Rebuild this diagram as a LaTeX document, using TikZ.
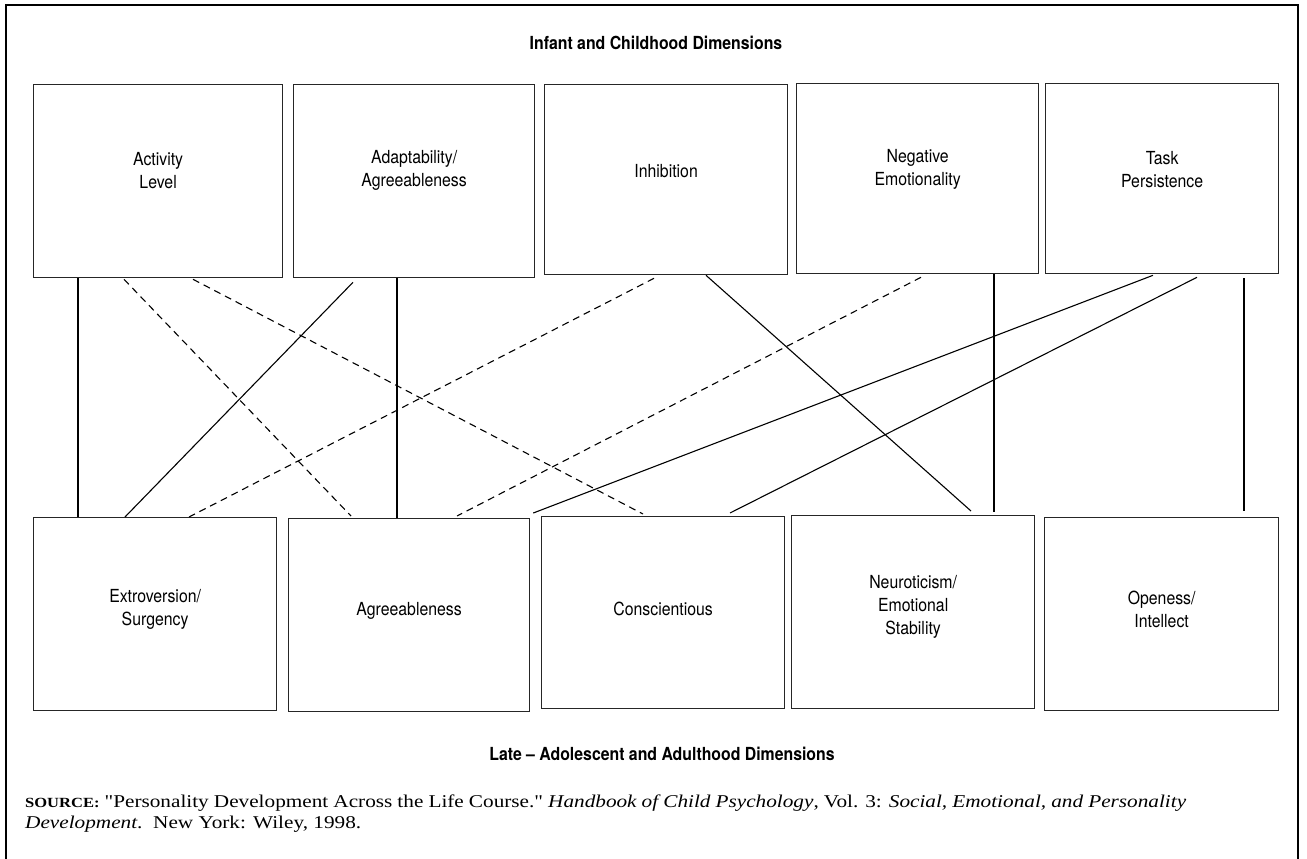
\documentclass[tikz,border=0pt]{standalone}
\usepackage{fontspec}
\newfontfamily\cond[FakeStretch=0.88,Ligatures=TeX]{TeX Gyre Heros}
\newfontfamily\srcfont[FakeStretch=1.18]{Liberation Serif}
\begin{document}
\begin{tikzpicture}[x=1pt,y=-1pt,
  box/.style={draw=black!85, line width=1.3pt, inner sep=0pt, anchor=north west},
  tl/.style={font=\cond\fontsize{18}{23}\selectfont, align=center, yshift=10.5pt, inner sep=0pt},
  bl/.style={font=\cond\fontsize{18}{23}\selectfont, align=center, yshift=4.5pt, inner sep=0pt},
  heading/.style={font=\cond\bfseries\fontsize{18}{22}\selectfont, inner sep=0pt},
  link/.style={line width=1.1pt},
  dlink/.style={line width=1.1pt, dash pattern=on 7pt off 5pt},
  frame/.style={line width=2.6pt}]
\useasboundingbox (0,0) rectangle (1307,859);
\draw[frame] (6,859) -- (6,5) -- (1298,5) -- (1298,859);

% headings
\node[heading] (top) at (656,43) {Infant and Childhood Dimensions};
\node[heading] (bot) at (662,754) {Late – Adolescent and Adulthood Dimensions};

% top boxes
\node[box, minimum width=249pt, minimum height=193pt, label={[tl]center:{Activity\\Level}}] (a1) at (33,84) {};
\node[box, minimum width=241pt, minimum height=193pt, label={[tl]center:{Adaptability/\\Agreeableness}}] (a2) at (293,84) {};
\node[box, minimum width=243pt, minimum height=190pt, label={[tl,yshift=-2pt]center:{Inhibition}}] (a3) at (544,84) {};
\node[box, minimum width=242pt, minimum height=190pt, label={[tl,yshift=-1pt]center:{Negative\\Emotionality}}] (a4) at (796,83) {};
\node[box, minimum width=233pt, minimum height=190pt, label={[tl,yshift=-1pt]center:{Task\\Persistence}}] (a5) at (1045,83) {};

% bottom boxes
\node[box, minimum width=243pt, minimum height=193pt, label={[bl]center:{Extroversion/\\Surgency}}] (b1) at (33,517) {};
\node[box, minimum width=241pt, minimum height=193pt, label={[bl]center:{Agreeableness}}] (b2) at (288,518) {};
\node[box, minimum width=243pt, minimum height=192pt, label={[bl,yshift=-1pt]center:{Conscientious}}] (b3) at (541,516) {};
\node[box, minimum width=243pt, minimum height=193pt, label={[bl,yshift=1pt]center:{Neuroticism/\\Emotional\\Stability}}] (b4) at (791,515) {};
\node[box, minimum width=234pt, minimum height=193pt, label={[bl]center:{Openess/\\Intellect}}] (b5) at (1044,517) {};

% connectors
\draw[link]  ([xshift=45pt]a1.south west) -- ([xshift=45pt]b1.north west);
\draw[dlink] ([xshift=91pt,yshift=-1pt]a1.south west) -- ([xshift=63pt,yshift=2pt]b2.north west);
\draw[dlink] ([xshift=160pt,yshift=-1pt]a1.south west) -- ([xshift=102pt,yshift=2pt]b3.north west);
\draw[link]  ([xshift=60pt,yshift=-4pt]a2.south west) -- ([xshift=92pt]b1.north west);
\draw[link]  ([xshift=104pt]a2.south west) -- ([xshift=109pt]b2.north west);
\draw[dlink] ([xshift=110pt,yshift=-3pt]a3.south west) -- ([xshift=156pt]b1.north west);
\draw[link]  ([xshift=162pt]a3.south west) -- ([xshift=180pt,yshift=4pt]b4.north west);
\draw[dlink] ([xshift=125pt,yshift=-3pt]a4.south west) -- ([xshift=169pt,yshift=2pt]b2.north west);
\draw[link]  ([xshift=198pt]a4.south west) -- ([xshift=203pt,yshift=3pt]b4.north west);
\draw[link]  ([xshift=108pt,yshift=-1pt]a5.south west) -- ([xshift=3pt,yshift=5pt]b2.north east);
\draw[link]  ([xshift=152pt,yshift=-3pt]a5.south west) -- ([xshift=189pt,yshift=3pt]b3.north west);
\draw[link]  ([xshift=199pt,yshift=-4pt]a5.south west) -- ([xshift=200pt,yshift=6pt]b5.north west);

% source
\node[anchor=north west, text width=1161pt, align=justify, inner sep=0pt, font=\srcfont\fontsize{18}{21}\selectfont] (src) at (25,795)
  {{\bfseries\fontsize{14}{21}\selectfont SOURCE:} "Personality Development Across the Life Course." \textit{Handbook of Child Psychology}, Vol. 3: \textit{Social, Emotional, and Personality}\linebreak
   \textit{Development}.\ \ New York: Wiley, 1998.};
\end{tikzpicture}
\end{document}
